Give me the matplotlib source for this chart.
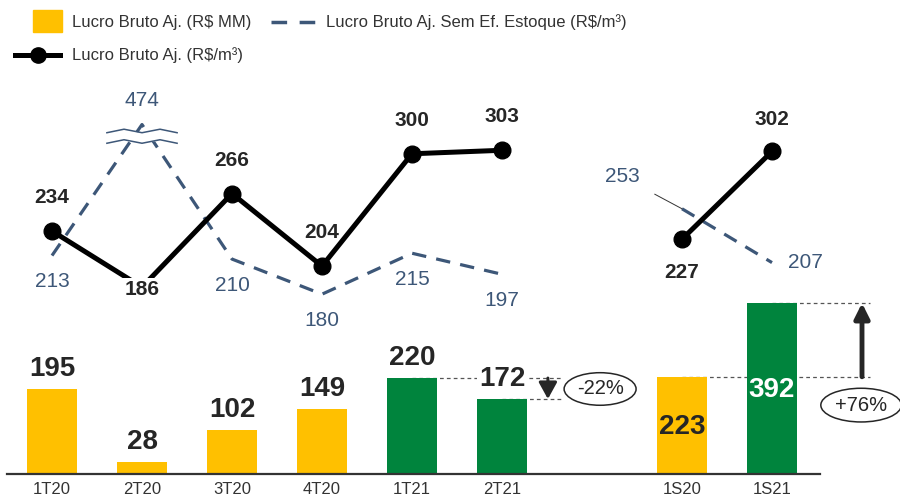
import matplotlib
matplotlib.use("Agg")
import matplotlib.pyplot as plt
from matplotlib.patches import Rectangle
from matplotlib.lines import Line2D

plt.rcParams["font.family"] = ["Liberation Sans", "DejaVu Sans"]

CATEGORIES = ["1T20", "2T20", "3T20", "4T20", "1T21", "2T21", "1S20", "1S21"]
BAR_VALUES = [195, 28, 102, 149, 220, 172, 223, 392]
LB_Q = [234, 186, 266, 204, 300, 303]
LB_S = [227, 302]
SEM_Q = [213, 474, 210, 180, 215, 197]
SEM_S = [253, 207]

X_Q = [0, 1, 2, 3, 4, 5]
X_S = [7, 8]
X_POS = X_Q + X_S

YELLOW = "#FFC000"
GREEN = "#00843D"
BLUE = "#3D5778"
DARK = "#262626"
BREAK_CAP = 325

fig = plt.figure(figsize=(9, 5.01), dpi=100)
ax = fig.add_axes([0, 27 / 501, 1, 474 / 501])
ax.set_xlim(-52 / 90, 848 / 90)
ax.set_ylim(0, 474 / 0.436)

colors = [YELLOW] * 4 + [GREEN] * 2 + [YELLOW, GREEN]
ax.bar(X_POS, BAR_VALUES, width=0.56, color=colors, zorder=3)

for s in ["top", "left", "right"]:
    ax.spines[s].set_visible(False)
ax.spines["bottom"].set_bounds(-0.5, 8.53)
ax.spines["bottom"].set_color("#333333")
ax.spines["bottom"].set_linewidth(1.6)
ax.spines["bottom"].set_zorder(4)
ax.set_yticks([])
ax.set_xticks(X_POS, CATEGORIES)
ax.tick_params(axis="x", length=0, pad=6, labelsize=12, labelcolor="#333333")

# bar labels
for x, v in zip(X_POS[:6], BAR_VALUES[:6]):
    bb = dict(boxstyle="square,pad=0.05", fc="white", ec="none") if x == 5 else None
    ax.annotate(str(v), (x, v), xytext=(0, 5), textcoords="offset points",
                ha="center", va="bottom", fontsize=20, fontweight="bold",
                color=DARK, zorder=6, bbox=bb)
ax.text(X_S[0], 108, str(BAR_VALUES[6]), ha="center", va="center",
        fontsize=20, fontweight="bold", color=DARK, zorder=6)
ax.text(X_S[1], 193, str(BAR_VALUES[7]), ha="center", va="center",
        fontsize=20, fontweight="bold", color="white", zorder=6)

# variation markers
dash_kw = dict(color="#555555", lw=0.9, ls=(0, (3, 2.5)), zorder=2)
ax.plot([4, 5.67], [BAR_VALUES[4]] * 2, **dash_kw)
ax.plot([5, 5.67], [BAR_VALUES[5]] * 2, **dash_kw)
ax.annotate("", xy=(5.51, BAR_VALUES[5]), xytext=(5.51, BAR_VALUES[4]),
            arrowprops=dict(arrowstyle="-|>,head_width=0.55,head_length=1.0",
                            color=DARK, lw=2.2, shrinkA=0, shrinkB=0))
ax.text(6.09, 195, "-22%", ha="center", va="center", fontsize=14.5, color=DARK,
        bbox=dict(boxstyle="ellipse,pad=0.1", fc="white", ec=DARK, lw=1.1))
ax.plot([7, 9.09], [BAR_VALUES[6]] * 2, **dash_kw)
ax.plot([8, 9.09], [BAR_VALUES[7]] * 2, **dash_kw)
ax.annotate("", xy=(9.0, BAR_VALUES[7]), xytext=(9.0, BAR_VALUES[6]),
            arrowprops=dict(arrowstyle="-|>,head_width=0.45,head_length=0.9",
                            color=DARK, lw=3.5, shrinkA=0, shrinkB=0))
ax.text(8.99, 158, "+76%", ha="center", va="center", fontsize=14.5, color=DARK,
        bbox=dict(boxstyle="ellipse,pad=0.12", fc="white", ec=DARK, lw=1.1))

# lines
ax2 = ax.twinx()
ax2.set_ylim(234 - 243 / 1.17, 234 + 231 / 1.17)
ax2.axis("off")

sem_q_disp = [min(v, BREAK_CAP) for v in SEM_Q]
line_kw = dict(color=BLUE, lw=2.3, dashes=(4.5, 3.2), zorder=2)
ax2.plot(X_Q, sem_q_disp, **line_kw)
ax2.plot(X_S, SEM_S, **line_kw)

blk_kw = dict(color="black", lw=3.6, marker="o", markersize=12, zorder=4)
ax2.plot(X_Q, LB_Q, **blk_kw)
ax2.plot(X_S, LB_S, **blk_kw)

# axis break on 474
wx = [0.61, 0.8, 1.0, 1.2, 1.39]
top = [318, 321, 318, 321, 318]
bot = [309, 312, 309, 312, 309]
ax2.fill_between(wx, bot, top, color="white", zorder=3, lw=0)
ax2.plot(wx, top, color=BLUE, lw=1.1, zorder=3)
ax2.plot(wx, bot, color=BLUE, lw=1.1, zorder=3)

# line labels
lb_off = [24, 0, 24, 24, 24, 24]
for x, v, o in zip(X_Q, LB_Q, lb_off):
    bb = dict(boxstyle="square,pad=0.1", fc="white", ec="none") if o == 0 else None
    ax2.annotate(str(v), (x, v), xytext=(0, o - 2 * (o == 0)), textcoords="offset points",
                 ha="center", va="center", fontsize=15, fontweight="bold",
                 color=DARK, zorder=5, bbox=bb)
ax2.annotate(str(LB_S[0]), (X_S[0], LB_S[0]), xytext=(0, -24), textcoords="offset points",
             ha="center", va="center", fontsize=15, fontweight="bold", color=DARK)
ax2.annotate(str(LB_S[1]), (X_S[1], LB_S[1]), xytext=(0, 23), textcoords="offset points",
             ha="center", va="center", fontsize=15, fontweight="bold", color=DARK)

for x, v, d in zip(X_Q, SEM_Q, sem_q_disp):
    off = (0, -19) if x != 1 else (0, 0)
    y = d if x != 1 else 234 + (231 - 100) / 1.17
    ax2.annotate(str(v), (x, y), xytext=off, textcoords="offset points",
                 ha="center", va="center", fontsize=15, color=BLUE)
ax2.annotate(str(SEM_S[1]), (X_S[1], SEM_S[1]), xytext=(24, 0), textcoords="offset points",
             ha="center", va="center", fontsize=15, color=BLUE)
ax2.annotate(str(SEM_S[0]), (X_S[0], SEM_S[0]), xytext=(-43, 23), textcoords="offset points",
             ha="center", va="center", fontsize=15, color=BLUE,
             arrowprops=dict(arrowstyle="-", color="#333333", lw=0.7,
                             shrinkA=10, shrinkB=0))

# legend
def px(x, y):
    return x / 900, 1 - y / 501

fig.add_artist(Rectangle(px(33, 32), 29 / 900, 22 / 501, color=YELLOW, transform=fig.transFigure))
fig.text(*px(72, 22), "Lucro Bruto Aj. (R$ MM)", va="center", fontsize=12, color="#333333")
fig.add_artist(Line2D([px(271, 0)[0], px(316, 0)[0]], [px(0, 22)[1]] * 2, color=BLUE, lw=2.5,
                      dashes=(4.5, 3.6), transform=fig.transFigure))
fig.text(*px(326, 22), "Lucro Bruto Aj. Sem Ef. Estoque (R$/m³)", va="center", fontsize=12,
         color="#333333")
fig.add_artist(Line2D([px(15, 0)[0], px(60, 0)[0]], [px(0, 55)[1]] * 2, color="black", lw=3.6,
                      transform=fig.transFigure))
fig.add_artist(Line2D([px(38, 0)[0]], [px(0, 55)[1]], color="black", marker="o", markersize=11,
                      transform=fig.transFigure))
fig.text(*px(72, 55), "Lucro Bruto Aj. (R$/m³)", va="center", fontsize=12, color="#333333")

fig.savefig("out.png", dpi=100)
